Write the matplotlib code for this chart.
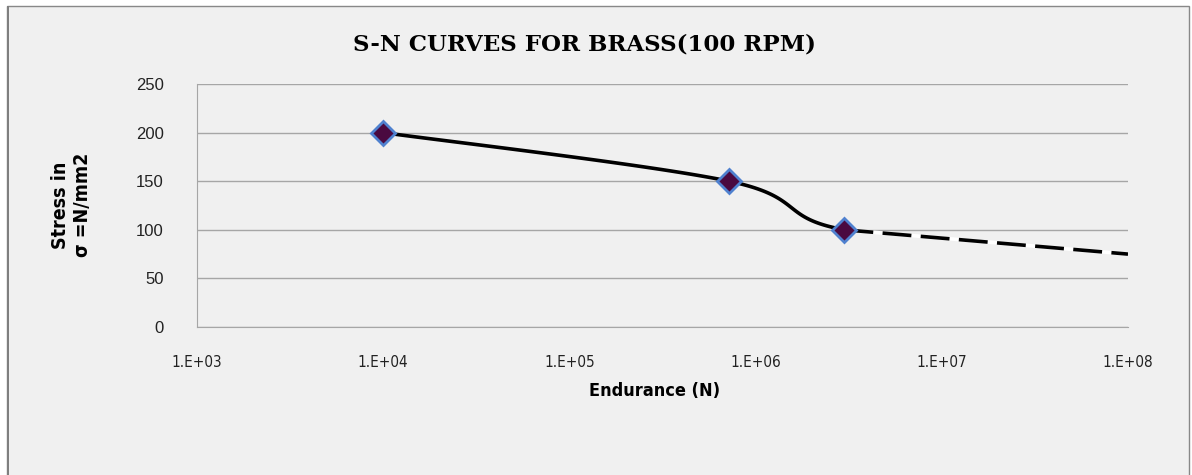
import numpy as np
import matplotlib
matplotlib.use("Agg")
import matplotlib.pyplot as plt
from matplotlib.patches import Rectangle

# Data
cycles = [1.0e4, 7.2e5, 3.0e6]
stress = [200, 150, 100]
extrap_cycles = [3.0e6, 1.0e8]
extrap_stress = [100, 75]

xticks = [1e3, 1e4, 1e5, 1e6, 1e7, 1e8]
xtick_labels = ["1.E+03", "1.E+04", "1.E+05", "1.E+06", "1.E+07", "1.E+08"]
yticks = [0, 50, 100, 150, 200, 250]

W, H = 1192, 475
fig = plt.figure(figsize=(W / 100, H / 100), dpi=100, facecolor="white")

# chart frame
fig.patches.append(Rectangle((7 / W, -0.05), (1189 - 7) / W, 1.05 - 6 / H,
                             transform=fig.transFigure, facecolor="#f0f0f0",
                             edgecolor="#888888", lw=1.0, zorder=-2))
fig.patches.append(Rectangle((7 / W, -0.05), 2 / W, 1.05 - 6 / H,
                             transform=fig.transFigure, facecolor="#7f7f7f",
                             edgecolor="none", zorder=-1))

ax = fig.add_axes([197 / W, 148 / H, (1128 - 197) / W, (327 - 84) / H])
ax.set_facecolor("none")
ax.set_xscale("log")
ax.set_xlim(1e3, 1e8)
ax.set_ylim(0, 250)

# smoothed curve (Excel-like bezier) computed in display space,
# tangents use the extrapolated end point as the next neighbour
fig.canvas.draw()
all_x = cycles + extrap_cycles[1:]
all_y = stress + extrap_stress[1:]
pts = ax.transData.transform(np.column_stack([all_x, all_y]))
P = np.vstack([pts[0], pts, pts[-1]])
seg = []
t = np.linspace(0, 1, 60)[:, None]
for i in range(1, len(cycles)):
    p0, p3 = P[i], P[i + 1]
    c1 = p0 + (P[i + 1] - P[i - 1]) / 6
    c2 = p3 - (P[i + 2] - P[i]) / 6
    seg.append((1 - t) ** 3 * p0 + 3 * (1 - t) ** 2 * t * c1 + 3 * (1 - t) * t ** 2 * c2 + t ** 3 * p3)
curve = ax.transData.inverted().transform(np.vstack(seg))
ax.plot(curve[:, 0], curve[:, 1], color="black", lw=2.6, zorder=3, solid_capstyle="round")

ax.plot(extrap_cycles, extrap_stress, color="white", lw=2.6, zorder=2)
ax.plot(extrap_cycles, extrap_stress, color="black", lw=2.6, zorder=3,
        dashes=(8, 2.6), dash_capstyle="butt")

ax.plot(cycles, stress, linestyle="none", marker="D", markersize=12,
        markerfacecolor="#4a0a40", markeredgecolor="#4f81cf", markeredgewidth=2.0, zorder=4)

ax.set_yticks(yticks)
ax.set_xticks(xticks)
ax.set_xticklabels(xtick_labels)
ax.minorticks_off()
ax.grid(axis="y", color="#a6a6a6", lw=1.0)
ax.set_axisbelow(True)
for s in ["top", "right"]:
    ax.spines[s].set_visible(False)
for s in ["left", "bottom"]:
    ax.spines[s].set_color("#a6a6a6")
ax.tick_params(length=0)
ax.tick_params(axis="y", pad=24, labelsize=12, labelcolor="#222222")
ax.tick_params(axis="x", pad=20, labelsize=11, labelcolor="#222222")
for lab in ax.get_xticklabels():
    lab.set_family(["DejaVu Sans"])
    lab.set_fontstretch("condensed")
for lab in ax.get_yticklabels():
    lab.set_family(["Liberation Sans", "DejaVu Sans"])

fig.text(584 / W, 1 - 45 / H, "S-N CURVES FOR BRASS(100 RPM)", ha="center", va="center",
         fontsize=16.5, fontweight="bold", family=["DejaVu Serif"])
fig.text(655 / W, 1 - 391 / H, "Endurance (N)", ha="center", va="center",
         fontsize=13, fontweight="bold", fontstretch="condensed", family=["DejaVu Sans"])
fig.text(71 / W, 1 - 205 / H, "Stress in\nσ =N/mm2", ha="center", va="center", rotation=90,
         fontsize=14, fontweight="bold", linespacing=1.2, fontstretch="condensed",
         family=["DejaVu Sans"])

fig.savefig("out.png", dpi=100, facecolor="white")
